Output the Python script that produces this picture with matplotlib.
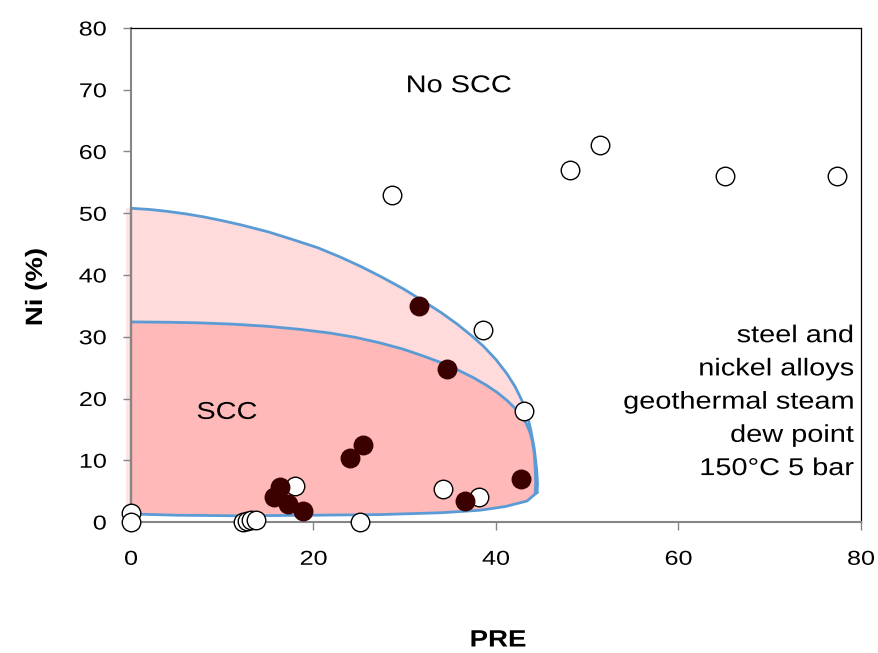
import matplotlib
matplotlib.use("Agg")
import matplotlib.pyplot as plt
from matplotlib.patheffects import AbstractPathEffect
from matplotlib.transforms import Affine2D

plt.rcParams['font.family'] = ['Liberation Sans', 'DejaVu Sans']

# open circles: no SCC
open_pre = [0, 0, 12.3, 12.7, 13.1, 13.7, 18.0, 25.1, 28.6, 38.6, 43.1, 34.2, 38.1, 48.1, 51.4, 65.1, 77.4]
open_ni = [1.5, 0, 0, 0.2, 0.3, 0.3, 5.8, 0, 53.0, 31.1, 17.9, 5.3, 4.0, 57.0, 61.0, 56.0, 56.0]

# filled circles: SCC
fill_pre = [31.6, 34.6, 24.0, 25.4, 16.3, 15.7, 17.2, 18.9, 36.6, 42.7]
fill_ni = [35.0, 24.8, 10.4, 12.4, 5.7, 4.1, 2.9, 1.8, 3.4, 6.9]

# region boundaries
outer_x = [0, 2, 4, 6, 8, 10, 12.1, 15, 17.6, 20.5, 23.1, 25.3, 27.3, 29.8, 32.0, 34, 35.7, 37.3, 38.6, 40,
           41.2, 42.1, 42.8, 43.4, 43.8, 44.2, 44.45, 44.55, 44.5]
outer_y = [50.8, 50.62, 50.3, 49.9, 49.4, 48.8, 48.1, 47.0, 45.8, 44.4, 42.8, 41.3, 39.8, 37.8, 35.8, 33.9,
           32.1, 30.2, 28.5, 26.3, 24.0, 21.9, 19.8, 17.4, 15.0, 11.8, 8.6, 6.2, 4.8]
inner_x = [0, 4, 7.5, 11, 14.9, 18.5, 21.8, 24.6, 27.3, 29.8, 32.0, 34, 35.7, 37.5, 39.0, 40.2, 41.2, 42.1,
           42.8, 43.3, 43.7, 44.0, 44.2, 44.3, 44.35, 44.3]
inner_y = [32.4, 32.35, 32.25, 32.05, 31.7, 31.2, 30.6, 29.9, 29.0, 28.0, 26.9, 25.8, 24.7, 23.4, 22.1, 20.9,
           19.7, 18.4, 17.2, 16.0, 14.6, 13.0, 11.0, 8.5, 6.5, 4.6]
bottom_x = [44.5, 43.4, 41, 38.2, 34, 27.3, 20, 12, 5, 0]
bottom_y = [4.8, 3.4, 2.5, 1.9, 1.5, 1.2, 1.1, 1.0, 1.1, 1.3]

xticks = [0, 20, 40, 60, 80]
yticks = [0, 10, 20, 30, 40, 50, 60, 70, 80]
note = 'steel and\nnickel alloys\ngeothermal steam\ndew point\n150°C 5 bar'


class Stretch(AbstractPathEffect):
    """Widen glyphs along the reading direction around an anchor point."""
    def __init__(self, sx=1.0, sy=1.0, cx=0.0, cy=0.0):
        super().__init__()
        self._t = Affine2D().translate(-cx, -cy).scale(sx, sy).translate(cx, cy)

    def draw_path(self, renderer, gc, tpath, affine, rgbFace=None):
        renderer.draw_path(gc, tpath, affine + self._t, rgbFace)


fig = plt.figure(figsize=(8.79, 6.53), dpi=100)
ax = fig.add_axes([131/879, 1-522/653, (861-131)/879, (522-28)/653])

ox = outer_x + bottom_x
oy = outer_y + bottom_y
ix = inner_x + bottom_x[1:]
iy = inner_y + bottom_y[1:]
ax.fill(ox, oy, color='#ffdbdb', zorder=1, lw=0)
ax.fill(ix, iy, color='#ffb9b9', zorder=1.5, lw=0)
ax.fill([-0.6, 0, 0, -0.6], [1.3, 1.3, 50.8, 50.8], color='#ffe6e6', lw=0, zorder=1, clip_on=False)
ax.plot([0, 0], [1.3, 50.8], color='#8a4f4f', lw=1.6, zorder=2.5, clip_on=False)
ax.plot(outer_x, outer_y, color='#5b9bd5', lw=2, zorder=2, solid_joinstyle='round')
ax.plot(inner_x, inner_y, color='#5b9bd5', lw=2, zorder=2, solid_joinstyle='round')
ax.plot(bottom_x, bottom_y, color='#5b9bd5', lw=2, zorder=2, solid_joinstyle='round')

ax.scatter(open_pre, open_ni, s=178, facecolor='white', edgecolor='black', linewidth=1, zorder=3, clip_on=False)
ax.scatter(fill_pre, fill_ni, s=178, facecolor='#3b0000', edgecolor='#3b0000', linewidth=1, zorder=4, clip_on=False)

ax.set_xlim(0, 80)
ax.set_ylim(0, 80)
ax.set_xticks(xticks)
ax.set_yticks(yticks)
for s in ['left', 'bottom']:
    ax.spines[s].set_color('#868686')
    ax.spines[s].set_linewidth(1.5)
for s in ['top', 'right']:
    ax.spines[s].set_color('black')
    ax.spines[s].set_linewidth(0.9)
ax.tick_params(axis='both', direction='out', length=6, color='#868686', width=1, labelsize=14.5)
ax.tick_params(axis='y', pad=11.5)
ax.tick_params(axis='x', pad=14)

ax.set_xlabel('PRE', fontsize=17, fontweight='bold')
ax.set_ylabel('Ni (%)', fontsize=17, fontweight='bold')
ax.xaxis.label.set(ha='center', va='center')
ax.yaxis.label.set(ha='center', va='center', rotation_mode='default')
ax.xaxis.set_label_coords((498-131)/730, (522-640)/494)
ax.yaxis.set_label_coords((35.5-131)/730, (522-287)/494)

t1 = ax.text(35.9, 69.6, 'No SCC', fontsize=17.5, ha='center', va='baseline')
t2 = ax.text(10.5, 16.7, 'SCC', fontsize=17.5, ha='center', va='baseline')
t3 = ax.text(79.2, 7.6, note, fontsize=17.5, ha='right', va='baseline', linespacing=1.66)

fig.canvas.draw()


def stretch(t, s, vertical=False):
    bb = t.get_window_extent()
    if vertical:
        t.set_path_effects([Stretch(sy=s, cy=(bb.y0 + bb.y1) / 2)])
    else:
        ha = t.get_horizontalalignment()
        cx = {'left': bb.x0, 'right': bb.x1}.get(ha, (bb.x0 + bb.x1) / 2)
        t.set_path_effects([Stretch(sx=s, cx=cx)])


for t in (t1, t2, t3):
    stretch(t, 1.19)
for t in ax.get_xticklabels() + ax.get_yticklabels():
    stretch(t, 1.25)
stretch(ax.xaxis.label, 1.17)
stretch(ax.yaxis.label, 1.17, vertical=True)

fig.savefig('out.png', dpi=100)
